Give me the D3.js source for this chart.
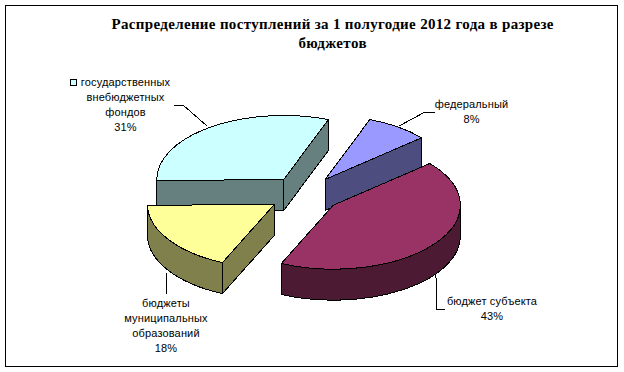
<!DOCTYPE html>
<html>
<head>
<meta charset="utf-8">
<script src="https://cdn.jsdelivr.net/npm/d3@7"></script>
<style>
  html, body { margin: 0; padding: 0; background: #fff; }
  svg { display: block; }
</style>
</head>
<body>
<div id="pie-chart"></div>
<script>
const titleLines = ["Распределение поступлений за 1 полугодие 2012 года в разрезе", "бюджетов"];

// same order as the excel sheet, clockwise
const categories = ["федеральный", "бюджет субъекта", "бюджеты муниципальных образований", "государственных внебюджетных фондов"];
const shares = [8, 43, 18, 31];

const labelLines = [
  ["федеральный"],
  ["бюджет субъекта"],
  ["бюджеты", "муниципальных", "образований"],
  ["государственных", "внебюджетных", "фондов"]
];

const topColors = ["#9999ff", "#993366", "#ffff99", "#ccffff"];
const sideColors = ["#4d4d80", "#4d1a33", "#80804d", "#668080"];

// Specify the chart's dimensions.
const width = 624;
const height = 372;
const cx = 304.5;
const cy = 194.3;
const rx = 127;
const ry = 64;
const depth = 31;
const explode = 36;
const lineStep = 15;

// label centre x, first line y, and the leader polyline
const labelLayout = [
  { x: 471.5, y: 104, leader: [[435, 112], [425, 112], [399, 126]] },
  { x: 492, y: 301, leader: [[445, 309], [436, 309], [436, 278], [435, 275]] },
  { x: 166, y: 303, leader: [[166, 294], [167, 273]] },
  { x: 125.5, y: 82, leader: [[174, 105], [183, 105], [207, 126]] }
];

const svg = d3.select("#pie-chart").append("svg")
  .attr("width", width)
  .attr("height", height)
  .attr("viewBox", [0, 0, width, height]);

svg.append("rect")
  .attr("x", 5.5)
  .attr("y", 5.5)
  .attr("width", 612)
  .attr("height", 361)
  .attr("fill", "#fff")
  .attr("stroke", "#000");

const title = svg.append("g")
  .attr("font-family", "'Liberation Serif', serif")
  .attr("font-weight", "bold")
  .attr("font-size", 15)
  .attr("text-anchor", "middle")
  .selectAll("text")
  .data(titleLines)
  .join("text")
  .attr("x", 332.5)
  .attr("y", (d, i) => 29 + i * 19)
  .attr("textLength", d => d.length > 20 ? 442 : 68)
  .text(d => d);

const startAngle = 20.6 * Math.PI / 180;
const arcs = d3.pie().sort(null).startAngle(startAngle).endAngle(startAngle + 2 * Math.PI)(shares);

// angle is clockwise from 12 o'clock, like d3.pie
function rim(a, o, dy = 0) {
  return [o[0] + rx * Math.sin(a), o[1] - ry * Math.cos(a) + dy];
}

function origin(d) {
  const mid = (d.startAngle + d.endAngle) / 2;
  return [cx + explode * Math.sin(mid), cy - explode * (ry / rx) * Math.cos(mid)];
}

function topPath(d) {
  const o = origin(d);
  const a = rim(d.startAngle, o);
  const b = rim(d.endAngle, o);
  const large = d.endAngle - d.startAngle > Math.PI ? 1 : 0;
  return `M${o}L${a}A${rx},${ry} 0,${large},1 ${b}Z`;
}

function wallPath(d, angle) {
  const o = origin(d);
  const a = rim(angle, o);
  return `M${o}L${a}L${a[0]},${a[1] + depth}L${o[0]},${o[1] + depth}Z`;
}

// only the part of the rim that faces the viewer
function outerPath(d) {
  const o = origin(d);
  const a0 = Math.max(d.startAngle, Math.PI / 2);
  const a1 = Math.min(d.endAngle, 3 * Math.PI / 2);
  if (a1 <= a0) return null;
  const a = rim(a0, o);
  const b = rim(a1, o);
  const a2 = rim(a0, o, depth);
  const b2 = rim(a1, o, depth);
  return `M${a}A${rx},${ry} 0,0,1 ${b}L${b2}A${rx},${ry} 0,0,0 ${a2}Z`;
}

// back to front: state funds, federal, municipal, subject
const drawOrder = [3, 0, 2, 1];

const slices = svg.append("g")
  .attr("stroke", "#000")
  .attr("stroke-width", 1)
  .attr("stroke-linejoin", "round")
  .attr("shape-rendering", "crispEdges")
  .selectAll("g")
  .data(drawOrder.map(i => arcs[i]))
  .join("g");

slices.each(function (d) {
  const g = d3.select(this);
  const o = origin(d);
  // the wall further back goes first
  const walls = [d.startAngle, d.endAngle]
    .sort((p, q) => rim(p, o)[1] - rim(q, o)[1]);
  walls.forEach(angle => {
    g.append("path").attr("d", wallPath(d, angle)).attr("fill", sideColors[d.index]);
  });
  const outer = outerPath(d);
  if (outer) g.append("path").attr("d", outer).attr("fill", sideColors[d.index]);
  g.append("path").attr("d", topPath(d)).attr("fill", topColors[d.index]);
});

// leader lines
svg.append("g")
  .attr("fill", "none")
  .attr("stroke", "#000")
  .attr("shape-rendering", "crispEdges")
  .selectAll("path")
  .data(labelLayout)
  .join("path")
  .attr("d", d => d3.line()(d.leader));

// data labels
const labels = svg.append("g")
  .attr("font-family", "'Liberation Sans', sans-serif")
  .attr("font-size", 11)
  .attr("letter-spacing", 0.15)
  .attr("text-anchor", "middle")
  .selectAll("g")
  .data(categories)
  .join("g");

labels.each(function (d, i) {
  const layout = labelLayout[i];
  const rows = labelLines[i].concat(shares[i] + "%");
  d3.select(this).selectAll("text")
    .data(rows)
    .join("text")
    .attr("x", layout.x)
    .attr("y", (r, k) => layout.y + k * lineStep + 4)
    .text(r => r);
});

// legend key next to the state funds label
svg.append("rect")
  .attr("x", 70.5)
  .attr("y", 79.5)
  .attr("width", 6)
  .attr("height", 6)
  .attr("fill", topColors[3])
  .attr("stroke", "#000");
</script>
</body>
</html>
